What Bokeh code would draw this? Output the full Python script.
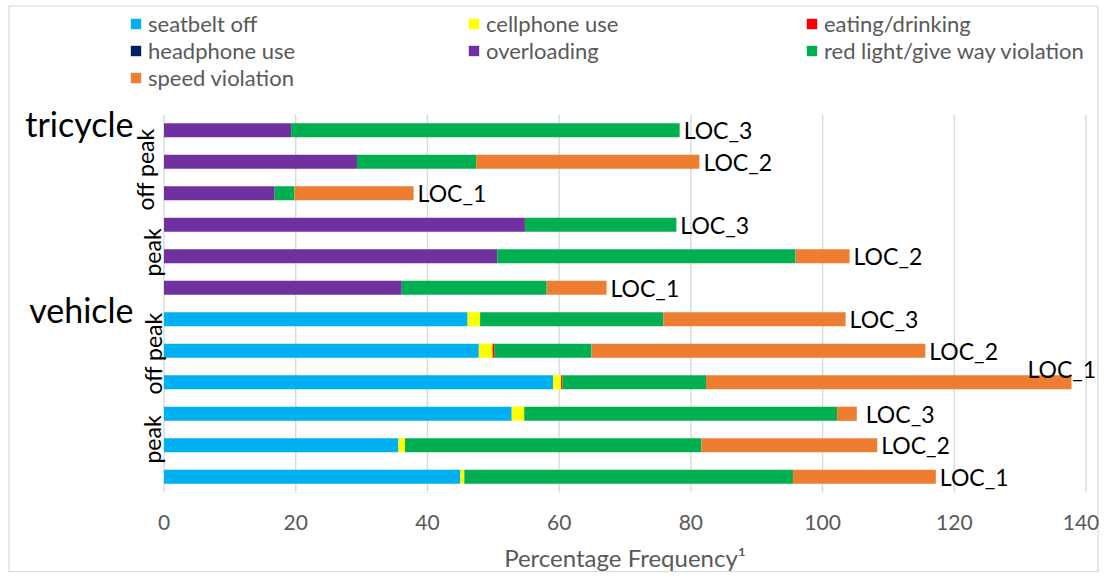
import math
from bokeh.plotting import figure
from bokeh.models import (ColumnDataSource, Legend, LegendItem, LabelSet, Label, Range1d)
from bokeh.core.properties import value
from bokeh.embed import file_html
from bokeh.resources import INLINE

# ---------------- data (rows listed bottom -> top) ----------------
groups = ["vehicle"] * 6 + ["tricycle"] * 6
periods = ["peak"] * 3 + ["off peak"] * 3 + ["peak"] * 3 + ["off peak"] * 3
locations = ["LOC_1", "LOC_2", "LOC_3"] * 4

seatbelt_off    = [45.0, 35.6, 52.8, 59.1, 47.8, 46.1, 0, 0, 0, 0, 0, 0]
cellphone_use   = [0.6, 1.0, 1.9, 1.2, 2.1, 1.9, 0, 0, 0, 0, 0, 0]
eating_drinking = [0, 0, 0, 0.2, 0.3, 0, 0, 0, 0, 0, 0, 0]
headphone_use   = [0, 0, 0, 0, 0, 0, 0, 0, 0, 0, 0, 0]
overloading     = [0, 0, 0, 0, 0, 0, 36.1, 50.6, 54.8, 16.8, 29.3, 19.3]
red_light       = [49.9, 45.0, 47.5, 21.8, 14.7, 27.8, 22.0, 45.3, 23.0, 3.0, 18.1, 59.0]
speed_violation = [21.7, 26.7, 3.0, 55.5, 50.7, 27.7, 9.1, 8.2, 0, 18.1, 33.9, 0]

series_names = ["seatbelt off", "cellphone use", "eating/drinking", "headphone use",
                "overloading", "red light/give way violation", "speed violation"]
series_keys = ["seatbelt", "cellphone", "eating", "headphone", "overloading", "redlight", "speed"]
series_values = [seatbelt_off, cellphone_use, eating_drinking, headphone_use,
                 overloading, red_light, speed_violation]
colors = ["#00B0F0", "#FFFF00", "#FF0000", "#002060", "#7030A0", "#00B050", "#ED7D31"]

x_ticks = [0, 20, 40, 60, 80, 100, 120, 140]
x_tick_labels = [str(t) for t in x_ticks]
x_title = "Percentage Frequency\u00b9"

# ---------------- geometry (canvas px) ----------------
W, H = 1099, 572
BAR_B = 492                          # pixel row of the bottom of the bar area
AX_L, AX_R = 163.5, 1085.5           # pixel position of x=0 and x=140
ROW_PX = 31.5
KX = (AX_R - AX_L) / 140.0
x_start = -AX_L / KX
x_end = (W - AX_L) / KX
y_start = 0.5 - (H - BAR_B) / ROW_PX
y_end = 0.5 + BAR_B / ROW_PX

def dx(px):
    return (px - AX_L) / KX

def dy(py):
    return 0.5 + (BAR_B - py) / ROW_PX

n = len(locations)
rows = list(range(1, n + 1))
totals = [sum(v) for v in zip(*series_values)]

data = {"y": rows}
for k, v in zip(series_keys, series_values):
    data[k] = v
src = ColumnDataSource(data)

p = figure(width=W, height=H, x_range=Range1d(x_start, x_end), y_range=Range1d(y_start, y_end),
           output_backend="svg", toolbar_location=None,
           x_axis_location=None, y_axis_location=None,
           min_border=0)
p.outline_line_color = None
p.background_fill_color = "white"
p.border_fill_color = "white"
p.xgrid.visible = False
p.ygrid.visible = False

# chart border
p.quad(left=[dx(8.5)], right=[dx(1097.5)], top=[dy(5.5)], bottom=[dy(571.0)],
       fill_color=None, line_color="#d9d9d9", line_width=1.2)

# vertical gridlines limited to the bar area
p.segment(x0=x_ticks, x1=x_ticks, y0=[0.5] * len(x_ticks), y1=[12.5] * len(x_ticks),
          line_color="#d9d9d9", line_width=1.4)

renderers = p.hbar_stack(series_keys, y="y", height=0.45, color=colors, source=src,
                         line_color=None)

# ---------------- x tick labels and axis title ----------------
tick_src = ColumnDataSource(dict(x=x_ticks, y=[dy(522)] * len(x_ticks), text=x_tick_labels,
                                 xo=[0] * (len(x_ticks) - 1) + [-5]))
p.text(x="x", y="y", text="text", x_offset="xo", source=tick_src,
       text_font=value("Lato"), text_font_size="21px", text_color="#595959",
       text_align="center", text_baseline="middle")
p.add_layout(Label(x=70, y=dy(557), text=x_title, text_font="Lato", text_font_size="24px",
                   text_color="#595959", text_align="center", text_baseline="middle"))

# ---------------- end labels ----------------
label_dx = [4] * n
label_dy = [0] * n
label_dx[3] = -44   # vehicle off peak LOC_1 label sits above the bar end
label_dy[3] = 13
label_dx[2] = 9     # vehicle peak LOC_3
lab_src = ColumnDataSource(dict(x=totals, y=rows, text=locations, xo=label_dx, yo=label_dy))
p.add_layout(LabelSet(x="x", y="y", text="text", source=lab_src, x_offset="xo", y_offset="yo",
                      text_font=value("Lato"), text_font_size="23px", text_color="black",
                      text_baseline="middle", text_align="left"))

# ---------------- category labels ----------------
for name, py in [("tricycle", 123), ("vehicle", 309)]:
    p.add_layout(Label(x=dx(133), y=dy(py), text=name, text_font="Lato", text_font_size="34px",
                       text_color="black", text_align="right", text_baseline="alphabetic"))

group_labels = [("peak", 151, 439), ("off peak", 152, 353),
                ("peak", 151, 252), ("off peak", 144, 169)]
for txt, px_c, py_c in group_labels:
    p.add_layout(Label(x=dx(px_c), y=dy(py_c), text=txt, angle=math.pi / 2,
                       text_font="Lato", text_font_size="23px", text_color="black",
                       text_align="center", text_baseline="middle"))

# ---------------- legend ----------------
legend = Legend(items=[LegendItem(label=nm, renderers=[r]) for nm, r in zip(series_names, renderers)],
                orientation="horizontal", ncols=3, location=(129, H - 91),
                glyph_width=13, glyph_height=13, label_width=319, label_height=24,
                label_standoff=6, spacing=0, padding=0, margin=0,
                border_line_color=None, background_fill_alpha=0,
                label_text_font="Lato", label_text_font_size="22px", label_text_color="#595959")
p.add_layout(legend)

open("out.html", "w").write(file_html(p, INLINE))
